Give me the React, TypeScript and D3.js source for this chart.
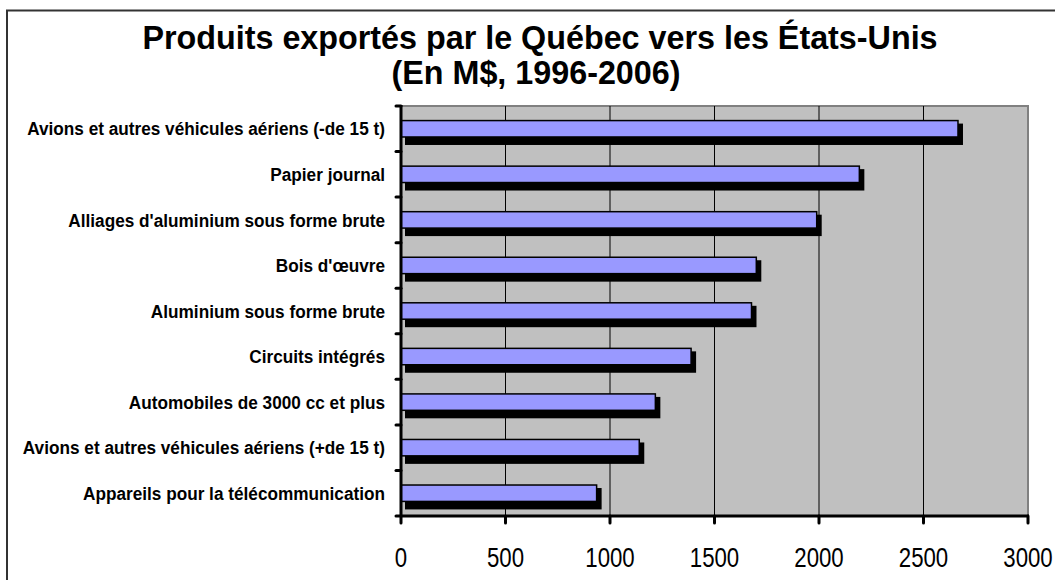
import React from "react";
import * as d3 from "d3";

const categories = [
  "Avions et autres véhicules aériens (-de 15 t)",
  "Papier journal",
  "Alliages d'aluminium sous forme brute",
  "Bois d'œuvre",
  "Aluminium sous forme brute",
  "Circuits  intégrés",
  "Automobiles de 3000 cc et plus",
  "Avions et autres véhicules aériens (+de 15 t)",
  "Appareils pour la télécommunication",
];
const values = [2665, 2193, 1989, 1700, 1677, 1388, 1217, 1140, 936];
const xTicks = [0, 500, 1000, 1500, 2000, 2500, 3000];
const titleLines = ["Produits exportés par le Québec vers les États-Unis", "(En M$, 1996-2006)"];

export default function App() {
  const W = 1055, H = 580;
  const left = 401, right = 1028, top = 106, bottom = 516;
  const x = d3.scaleLinear().domain([0, 3000]).range([left, right]);
  const y = d3.scaleBand<string>().domain(categories).range([top, bottom]).paddingInner(0.64).paddingOuter(0.32);
  const band = (bottom - top) / categories.length;
  const sans = "'Liberation Sans', Arial, sans-serif";
  const titleX = [540, 536];
  const titleY = [49, 84];
  return (
    <svg width={W} height={H} style={{ position: "absolute", left: 0, top: 0 }} xmlns="http://www.w3.org/2000/svg">
      <rect x={0} y={0} width={W} height={H} fill="#fff" />
      <rect x={7} y={10.5} width={W + 10} height={H + 10} fill="none" stroke="#333" strokeWidth={2} />
      {titleLines.map((t, i) => (
        <text key={i} x={titleX[i]} y={titleY[i]} textAnchor="middle" fontFamily={sans} fontWeight="bold" fontSize={32.3} fill="#000">
          {t}
        </text>
      ))}
      <rect x={left} y={top} width={right - left} height={bottom - top} fill="#C0C0C0" stroke="#808080" strokeWidth={2} />
      {xTicks.slice(1, -1).map((t) => (
        <line key={t} x1={x(t)} x2={x(t)} y1={top} y2={bottom} stroke="#000" strokeWidth={1} />
      ))}
      {categories.map((c, i) => {
        const y0 = y(c)!;
        const h = y.bandwidth();
        const x1 = x(values[i]);
        return (
          <g key={c}>
            <rect x={left + 4} y={y0 + 3} width={x1 - left + 1} height={h + 5} fill="#000" />
            <rect x={left} y={y0} width={x1 - left} height={h} fill="#9999FF" stroke="#000" strokeWidth={1.5} />
          </g>
        );
      })}
      <line x1={left} x2={left} y1={top - 1} y2={bottom + 1} stroke="#000" strokeWidth={3} />
      <line x1={left - 1} x2={right + 1} y1={bottom} y2={bottom} stroke="#000" strokeWidth={3} />
      {d3.range(categories.length + 1).map((i) => (
        <line key={i} x1={left - 5} x2={left} y1={top + i * band} y2={top + i * band} stroke="#000" strokeWidth={3} strokeLinecap="round" />
      ))}
      {xTicks.map((t) => (
        <line key={t} x1={x(t)} x2={x(t)} y1={bottom} y2={bottom + 7} stroke="#000" strokeWidth={3} strokeLinecap="round" />
      ))}
      {categories.map((c) => (
        <text
          key={c}
          transform={`translate(385,${y(c)! + y.bandwidth() / 2}) scale(0.93,1)`}
          dy="0.36em"
          textAnchor="end"
          fontFamily={sans}
          fontWeight="bold"
          fontSize={18.5}
          fill="#000"
        >
          {c}
        </text>
      ))}
      {xTicks.map((t) => (
        <text key={t} transform={`translate(${x(t)},567) scale(0.78,1)`} textAnchor="middle" fontFamily={sans} fontSize={28.5} fill="#000">
          {t}
        </text>
      ))}
    </svg>
  );
}
